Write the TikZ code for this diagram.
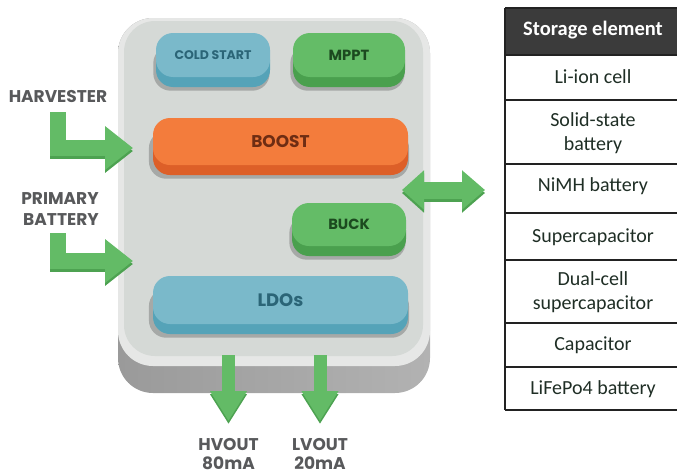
\documentclass[tikz,border=0pt]{standalone}
\usepackage{fontspec}
\setmainfont{Poppins}
\newfontfamily\tablefont{Carlito}
\usetikzlibrary{shadows,arrows.meta}

\definecolor{chipbaseL}{HTML}{9A9A9A}
\definecolor{chipbaseR}{HTML}{B2B2B2}
\definecolor{chiprim}{HTML}{E6E7E6}
\definecolor{chipface}{HTML}{D5D9D6}
\definecolor{blkshadow}{HTML}{A6A9A7}
\definecolor{blueface}{HTML}{7AB9CA}
\definecolor{blueside}{HTML}{55A3B8}
\definecolor{bluetext}{HTML}{2B6577}
\definecolor{greenface}{HTML}{64BC67}
\definecolor{greenside}{HTML}{4AA04E}
\definecolor{greentext}{HTML}{1C4A1F}
\definecolor{orangeface}{HTML}{F37C3C}
\definecolor{orangeside}{HTML}{DD5F28}
\definecolor{orangetext}{HTML}{6E2D13}
\definecolor{flowgreen}{HTML}{63BB66}
\definecolor{flowdark}{HTML}{4DA251}
\definecolor{labelgray}{HTML}{58595B}
\definecolor{headgray}{HTML}{3B3B3B}
\definecolor{cellink}{HTML}{1F2E25}
\definecolor{rulecol}{HTML}{222222}

\tikzset{
  blk/.style={rectangle, rounded corners=17pt, inner sep=0pt,
    general shadow={shadow xshift=-1.5pt, shadow yshift=-13pt, shadow scale=1.02, fill=blkshadow}},
  blueblk/.style={blk, fill=blueface, text=bluetext,
    general shadow={shadow yshift=-10pt, fill=blueside}},
  greenblk/.style={blk, fill=greenface, text=greentext,
    general shadow={shadow yshift=-10pt, fill=greenside}},
  orangeblk/.style={blk, fill=orangeface, text=orangetext,
    general shadow={shadow yshift=-10pt, fill=orangeside}},
  sidelabel/.style={text=labelgray, anchor=base, inner sep=0pt,
    font=\bfseries\fontsize{17}{20}\selectfont},
  flowline/.style={draw=flowgreen, line join=miter},
  flowshade/.style={draw=flowdark, line join=miter, transform canvas={yshift=-3pt}},
  cell/.style={text=cellink, align=center, inner sep=0pt,
    font=\tablefont\fontsize{20}{24}\selectfont},
  rule/.style={draw=rulecol, line width=1.3pt},
}

\begin{document}
\begin{tikzpicture}[x=1pt,y=-1pt]
\useasboundingbox (0,0) rectangle (677,474);

% chip body: shaded base, light rim, face
\shade[left color=chipbaseL, right color=chipbaseR, rounded corners=35pt]
  (118,18) rectangle (430,393);
\fill[chiprim, rounded corners=35pt] (118,18) rectangle (430,366);
\fill[chipface, rounded corners=31pt] (124,21) rectangle (423,356);

% converter blocks
\node[blueblk, minimum width=114pt, minimum height=44pt,
  font=\bfseries\fontsize{12.5}{12}\selectfont] (cold) at (213,55) {COLD START};
\node[greenblk, minimum width=112pt, minimum height=44pt,
  font=\bfseries\fontsize{14.7}{14}\selectfont] (mppt) at (349,55) {MPPT};
\node[orangeblk, minimum width=255pt, minimum height=47pt,
  font=\bfseries\fontsize{17}{16}\selectfont] (boost) at (280.5,141.5) {BOOST};
\node[greenblk, minimum width=114pt, minimum height=43pt,
  font=\bfseries\fontsize{14.7}{14}\selectfont] (buck) at (349,224.5) {BUCK};
\node[blueblk, minimum width=255pt, minimum height=48pt,
  font=\bfseries\fontsize{18}{16}\selectfont] (ldo) at (280.5,300) {LDOs};

% input labels
\node[sidelabel] (harv)  at (58,102) {HARVESTER};
\node[sidelabel] (prim1) at (60,204) {PRIMARY};
\node[sidelabel] (prim2) at (61,225) {BATTERY};

% anchor points of the flow arrows
\coordinate (harvsrc) at (58,112);
\coordinate (harvin)  at (133,148);
\coordinate (primsrc) at (58,233);
\coordinate (primin)  at (133,261);
\coordinate (storeL)  at (402,190);
\coordinate (storeR)  at (485,190);
\coordinate (hvsrc)   at (228.5,355);
\coordinate (hvend)   at (228.5,421);
\coordinate (lvsrc)   at (320,355);
\coordinate (lvend)   at (320,421);

% input arrows
\foreach \s/\e in {harvsrc/harvin, primsrc/primin}{
  \draw[flowshade, line width=16.5pt, -{Triangle[length=28pt,width=42pt]}] (\s) |- (\e);
  \draw[flowline,  line width=16.5pt, -{Triangle[length=28pt,width=42pt]}] (\s) |- (\e);
}

% storage arrow
\draw[flowshade, line width=17pt,
  {Triangle[length=22pt,width=38pt]}-{Triangle[length=23pt,width=38pt]}] (storeL) -- (storeR);
\draw[flowline, line width=17pt,
  {Triangle[length=22pt,width=38pt]}-{Triangle[length=23pt,width=38pt]}] (storeL) -- (storeR);

% output arrows
\foreach \s/\e in {hvsrc/hvend, lvsrc/lvend}{
  \draw[flowshade, line width=13pt, -{Triangle[length=30pt,width=35pt]}] (\s) -- (\e);
  \draw[flowline,  line width=13pt, -{Triangle[length=30pt,width=35pt]}] (\s) -- (\e);
}

% output labels
\node[sidelabel] (hv1) at (228.5,450) {HVOUT};
\node[sidelabel] (hv2) at (228.5,469.5) {80mA};
\node[sidelabel] (lv1) at (320,450) {LVOUT};
\node[sidelabel] (lv2) at (320,469.5) {20mA};

% storage table
\fill[headgray] (505,8) rectangle (677,55);
\foreach \y in {8,55,100,164,213,260,323,367,410}{
  \draw[rule] (505,\y) -- (677,\y);
}
\draw[rule] (505,8) -- (505,410);
\node[cell, text=white, font=\tablefont\bfseries\fontsize{20.5}{24}\selectfont] (head) at (593,30) {Storage element};
\node[cell] (r1) at (593,77) {Li-ion cell};
\node[cell] (r2) at (593,133) {Solid-state\\battery};
\node[cell] (r3) at (593,186) {NiMH battery};
\node[cell] (r4) at (593,237) {Supercapacitor};
\node[cell] (r5) at (593,292) {Dual-cell\\supercapacitor};
\node[cell] (r6) at (593,345) {Capacitor};
\node[cell] (r7) at (593,389) {LiFePo4 battery};
\end{tikzpicture}
\end{document}
